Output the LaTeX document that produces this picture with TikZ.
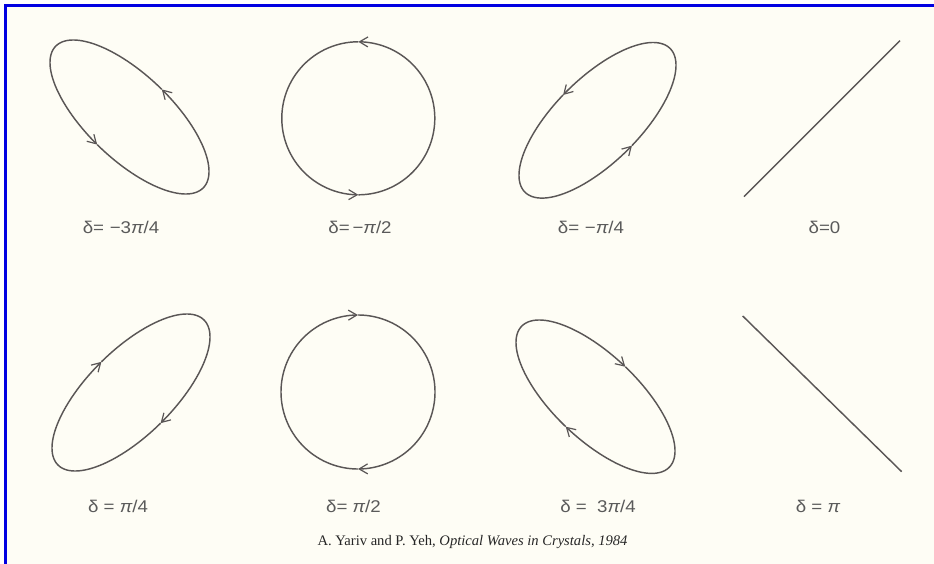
\documentclass[tikz,border=0pt]{standalone}
\usepackage{fontspec}
\setmainfont{Liberation Serif}
\newfontfamily\lblfont[FakeStretch=1.1]{Liberation Sans}
\usetikzlibrary{arrows.meta}
\definecolor{cream}{RGB}{254,253,245}
\definecolor{ink}{RGB}{90,86,86}
\definecolor{lblgray}{RGB}{90,90,90}
\definecolor{frameblue}{RGB}{0,0,225}
\tikzset{
  curve/.style={draw=ink, line width=1.45pt, line join=round},
  tipstyle/.style={-{Straight Barb[length=8.5pt,width=10pt,line width=1.2pt]}},
  lbl/.style={font=\lblfont\fontsize{17}{20}\selectfont, text=lblgray, inner sep=0pt},
  cite/.style={font=\fontsize{14.6}{17}\selectfont, text=black!85, inner sep=0pt}
}
% cx, cy, Ax, Ay, delta, t of first arrow
\newcommand{\polEll}[6]{%
  \pgfmathsetmacro\ellA{#6}%
  \pgfmathsetmacro\ellB{#6+180}%
  \pgfmathsetmacro\ellC{#6+360}%
  \draw[curve,tipstyle] plot[variable=\t,domain=\ellA:\ellB,samples=120]
     ({#1+#3*cos(\t)},{#2-#4*cos(\t+(#5))});
  \draw[curve,tipstyle] plot[variable=\t,domain=\ellB:\ellC,samples=120]
     ({#1+#3*cos(\t)},{#2-#4*cos(\t+(#5))});
}
\begin{document}
\begin{tikzpicture}[x=1pt,y=-1pt]
\useasboundingbox (0,0) rectangle (934,564);
\fill[white] (0,0) rectangle (934,564);
\fill[cream] (5.5,5.5) rectangle (934,564);
\draw[frameblue, line width=3pt] (5.5,564) -- (5.5,5.5) -- (934,5.5);

% top row
\polEll{129.5}{117}{79.5}{77}{-135}{66}
\polEll{358.3}{118.3}{76.5}{76.5}{-90}{90}
\polEll{597.5}{120.3}{78.5}{77.8}{-45}{116}
\coordinate (z0a) at (744,196.7);
\coordinate (z0b) at (900,40.7);
\draw[curve] (z0a) -- (z0b);

% bottom row
\polEll{131}{392.5}{79}{78.5}{45}{68}
\polEll{358}{392}{77}{77}{90}{90}
\polEll{595.5}{396.7}{79.5}{76.7}{135}{112}
\coordinate (zpa) at (742.7,316);
\coordinate (zpb) at (901.7,471.7);
\draw[curve] (zpa) -- (zpb);

% labels
\node[lbl] (l1) at (121,227) {δ=\,\,−3{\itshape π}/4};
\node[lbl] (l2) at (360,227) {δ=\,−{\itshape π}/2};
\node[lbl] (l3) at (591,227) {δ=\,\,−{\itshape π}/4};
\node[lbl] (l4) at (824.5,227) {δ=0};
\node[lbl] (l5) at (118,506) {δ = {\itshape π}/4};
\node[lbl] (l6) at (353.5,506) {δ= {\itshape π}/2};
\node[lbl] (l7) at (598,506) {δ =\ \ 3{\itshape π}/4};
\node[lbl] (l8) at (818,506) {δ = {\itshape π}};

\node[cite] (cite) at (472.5,542) {A. Yariv and P. Yeh, \textit{Optical Waves in Crystals, 1984}};
\end{tikzpicture}
\end{document}
